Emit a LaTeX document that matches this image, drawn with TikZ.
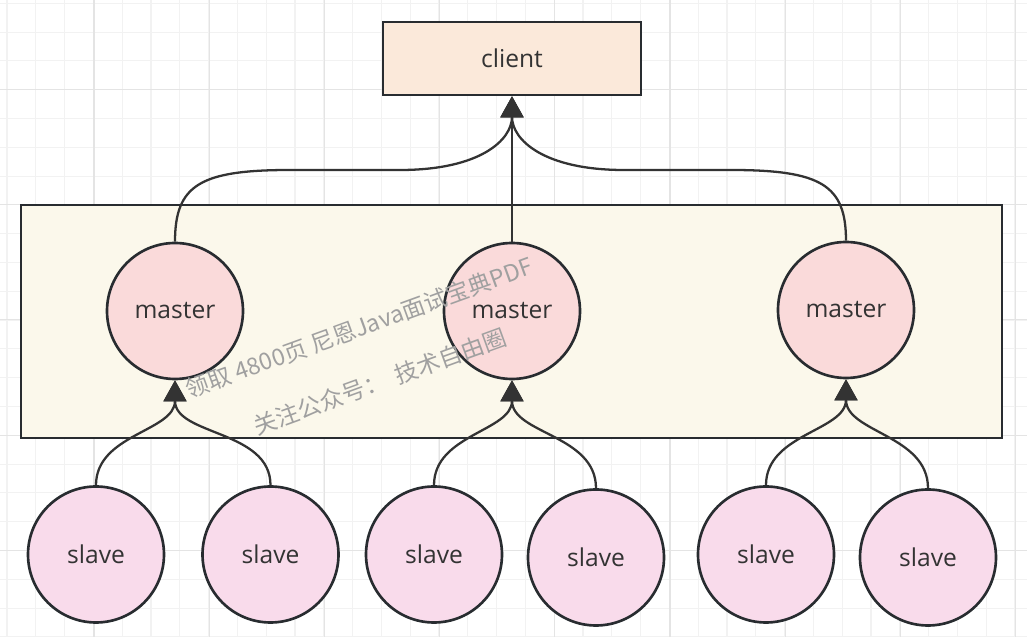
\documentclass[tikz,border=0pt]{standalone}
\usepackage{fontspec}
\setmainfont{Open Sans}
\newfontfamily\cjkfont{Noto Sans CJK SC}
\usepackage{xcolor}
\usetikzlibrary{arrows.meta}
\definecolor{ink}{RGB}{40,44,48}
\definecolor{wire}{RGB}{51,51,51}
\definecolor{txt}{RGB}{51,51,51}
\definecolor{clientfill}{RGB}{251,233,218}
\definecolor{clusterfill}{RGB}{251,248,235}
\definecolor{masterfill}{RGB}{250,218,218}
\definecolor{slavefill}{RGB}{249,219,235}
\definecolor{gridminor}{RGB}{242,242,242}
\definecolor{gridmajor}{RGB}{228,228,228}
\definecolor{wmgray}{RGB}{160,160,160}

\begin{document}
\begin{tikzpicture}[
  box/.style={draw=ink,line width=1.5pt,fill=clientfill,minimum width=5.16cm,minimum height=1.46cm,inner sep=0pt,font=\fontsize{14}{17}\selectfont,text=txt},
  cluster/.style={draw=ink,line width=1.5pt,fill=clusterfill,minimum width=19.62cm,minimum height=4.66cm,inner sep=0pt},
  master/.style={circle,draw=ink,line width=1.5pt,fill=masterfill,minimum size=2.72cm,inner sep=0pt,font=\fontsize{14}{17}\selectfont,text=txt},
  slave/.style={master,fill=slavefill},
  arr/.style={-{Triangle[length=12pt,width=13pt]},draw=wire,line width=1.3pt},
  wmark/.style={font=\cjkfont\fontsize{13.3}{16}\selectfont,text=wmgray,rotate=20}
]
\useasboundingbox (0,0) rectangle (20.54,-12.74);
\fill[white] (0,0) rectangle (20.54,-12.74);
\draw[gridminor,line width=0.6pt,shift={(0.14,-0.066)}] (-0.5,-13.2) grid[step=0.576] (20.7,0.5);
\draw[gridmajor,line width=0.6pt,shift={(1.88,-1.79)}] (-2.4,-11.6) grid[step=2.304] (19.0,2.0);

\node[cluster] (grp) at (10.23,-6.43) {};
\node[box] (client) at (10.24,-1.17) {client};
\node[master] (m1) at (3.5,-6.22) {master};
\node[master] (m2) at (10.24,-6.22) {master};
\node[master] (m3) at (16.92,-6.2) {master};
\node[slave] (s1) at (1.92,-11.09) {slave};
\node[slave] (s2) at (5.41,-11.09) {slave};
\node[slave] (s3) at (8.68,-11.09) {slave};
\node[slave] (s4) at (11.92,-11.15) {slave};
\node[slave] (s5) at (15.32,-11.09) {slave};
\node[slave] (s6) at (18.56,-11.15) {slave};

\draw[arr] (s1.north) to[out=90,in=-90] (m1.south);
\draw[arr] (s2.north) to[out=90,in=-90] (m1.south);
\draw[arr] (s3.north) to[out=90,in=-90] (m2.south);
\draw[arr] (s4.north) to[out=90,in=-90] (m2.south);
\draw[arr] (s5.north) to[out=90,in=-90] (m3.south);
\draw[arr] (s6.north) to[out=90,in=-90] (m3.south);
\draw[arr] (m1.north) .. controls (3.5,-3.7) and (4.0,-3.4) .. (5.8,-3.4) -- (8.0,-3.4) .. controls (9.6,-3.4) and (10.24,-2.8) .. (client.south);
\draw[arr] (m2.north) -- (client.south);
\draw[arr] (m3.north) .. controls (16.92,-3.7) and (16.42,-3.4) .. (14.62,-3.4) -- (12.48,-3.4) .. controls (10.88,-3.4) and (10.24,-2.8) .. (client.south);

\node[wmark] (wm1) at (7.18,-6.55) {领取 4800页 尼恩Java面试宝典PDF};
\node[wmark] (wm2) at (7.6,-7.64) {关注公众号：\hspace{0.4em}技术自由圈};
\end{tikzpicture}
\end{document}
